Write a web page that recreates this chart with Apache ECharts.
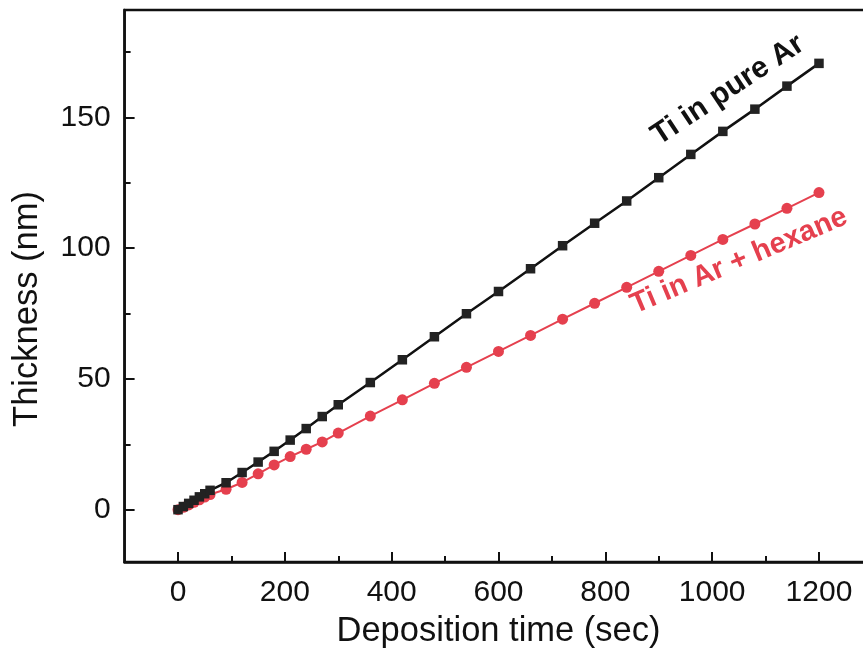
<!DOCTYPE html>
<html><head><meta charset="utf-8">
<script src="https://cdn.jsdelivr.net/npm/echarts@6/dist/echarts.min.js"></script>
<style>html,body{margin:0;padding:0;background:#fff}#c{width:863px;height:649px}</style>
</head><body><div id="c"></div>
<script>
const times = [0,10,20,30,40,50,60,90,120,150,180,210,240,270,300,360,420,480,540,600,660,720,780,840,900,960,1020,1080,1140,1200];
const pureAr = [0,1.2,2.4,3.6,4.9,6.1,7.4,10.3,14.2,18.2,22.3,26.6,31.0,35.6,40.1,48.6,57.3,66.1,74.9,83.4,92.1,100.9,109.5,118.0,126.9,135.8,144.6,153.1,161.9,170.6];
const arHexane = [0,0.9,1.8,2.8,3.8,4.8,5.8,7.8,10.4,13.7,17.1,20.3,23.1,25.9,29.3,35.8,42.0,48.3,54.4,60.5,66.6,72.8,78.9,85.0,91.1,97.2,103.3,109.2,115.2,121.2];
const xMajor = [0,200,400,600,800,1000,1200];
const xMinor = [100,300,500,700,900,1100];
const yMajor = [0,50,100,150];
const yMinor = [25,75,125,175];
const seriesNames = ['Ti in pure Ar','Ti in Ar + hexane'];

const RED = '#e5404e';
const FONT = '"Liberation Sans", Arial, sans-serif';
const chart = echarts.init(document.getElementById('c'), null, {renderer:'canvas'});
const pair = (xs, ys) => xs.map((x,i)=>[x, ys[i]]);
const axisLine = {show:true, onZero:false, lineStyle:{color:'#111', width:2.5}};
const plain = v => String(v);
chart.setOption({
  animation:false,
  backgroundColor:'#fff',
  grid:{left:124.6, top:10, width:747.8, height:552, containLabel:false, outerBoundsMode:'none',
        show:true, borderColor:'#111', borderWidth:2.5},
  xAxis:[{
    type:'value', min:-100, max:1300, position:'bottom',
    axisLine:axisLine,
    axisTick:{show:true, inside:true, length:10, lineStyle:{color:'#111', width:2}, customValues:xMajor},
    axisLabel:{customValues:xMajor, formatter:plain, color:'#111', fontSize:30, fontFamily:FONT, margin:16},
    splitLine:{show:false},
    name:'Deposition time (sec)', nameLocation:'middle', nameGap:52,
    nameTextStyle:{color:'#111', fontSize:34.5, fontFamily:FONT}
  },{
    type:'value', min:-100, max:1300, position:'bottom',
    axisLine:{show:false, onZero:false},
    axisTick:{show:true, inside:true, length:6, lineStyle:{color:'#111', width:2}, customValues:xMinor},
    axisLabel:{show:false},
    splitLine:{show:false}
  }],
  yAxis:[{
    type:'value', min:-20, max:191, position:'left',
    axisLine:axisLine,
    axisTick:{show:true, inside:true, length:10, lineStyle:{color:'#111', width:2}, customValues:yMajor},
    axisLabel:{customValues:yMajor, formatter:plain, color:'#111', fontSize:30, fontFamily:FONT, margin:14},
    splitLine:{show:false},
    name:'Thickness (nm)', nameLocation:'middle', nameGap:80,
    nameTextStyle:{color:'#111', fontSize:34.5, fontFamily:FONT, padding:[0,46,0,0]}
  },{
    type:'value', min:-20, max:191, position:'left', offset:0,
    axisLine:{show:false, onZero:false},
    axisTick:{show:true, inside:true, length:6, lineStyle:{color:'#111', width:2}, customValues:yMinor},
    axisLabel:{show:false},
    splitLine:{show:false}
  }],
  series:[{
    name:seriesNames[1], type:'line', data:pair(times, arHexane),
    symbol:'circle', symbolSize:11,
    lineStyle:{color:RED, width:2}, itemStyle:{color:RED},
    z:2
  },{
    name:seriesNames[0], type:'line', data:pair(times, pureAr),
    symbol:'rect', symbolSize:9.5,
    lineStyle:{color:'#111', width:2.5}, itemStyle:{color:'#222'},
    z:3
  }],
  graphic:[{
    type:'text', x:728, y:90, rotation:33.5*Math.PI/180,
    style:{text:seriesNames[0], fill:'#111', font:'bold 30px ' + FONT, textAlign:'center', textVerticalAlign:'middle'}
  },{
    type:'text', x:739, y:261, rotation:23*Math.PI/180,
    style:{text:seriesNames[1], fill:RED, font:'bold 29px ' + FONT, textAlign:'center', textVerticalAlign:'middle'}
  }]
});
</script></body></html>
